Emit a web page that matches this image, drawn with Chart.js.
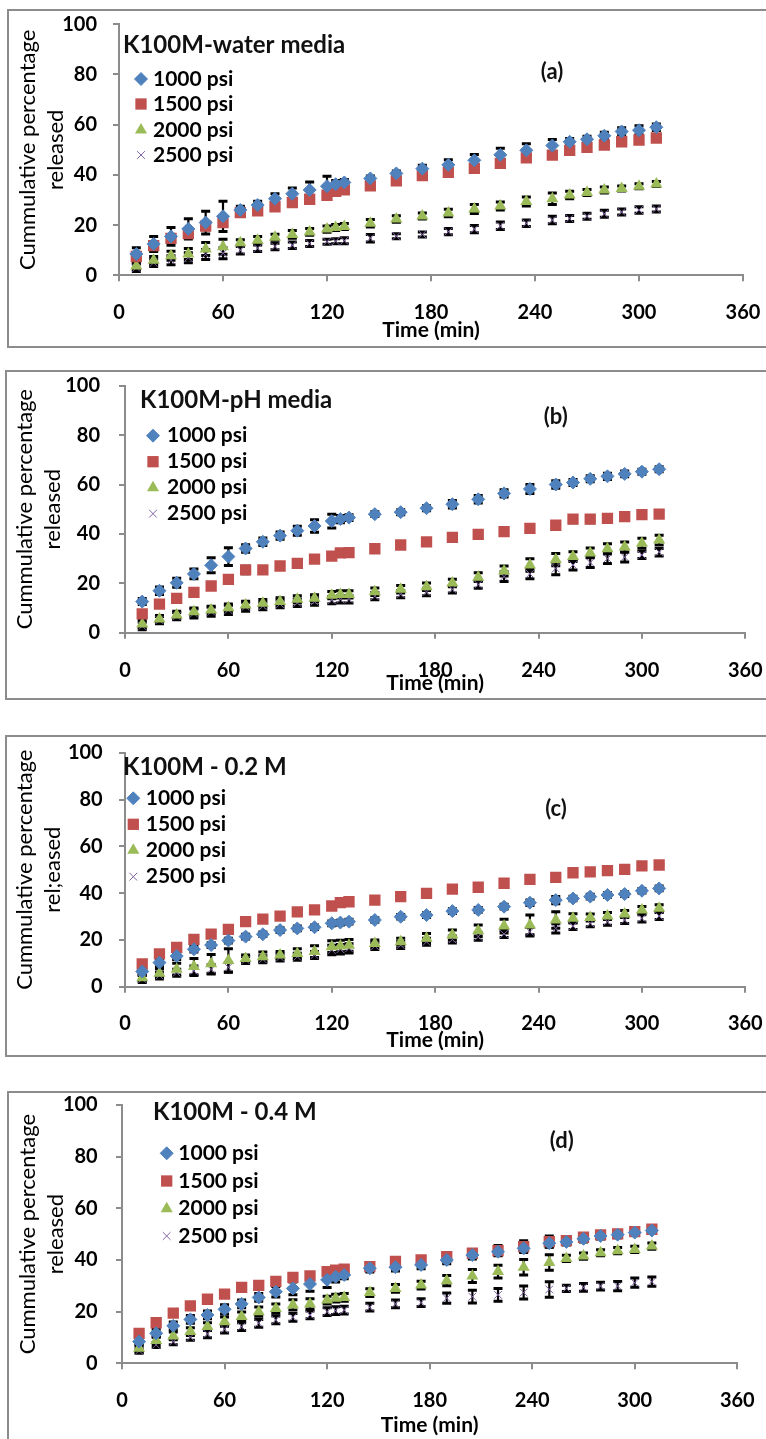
<!DOCTYPE html>
<html>
<head>
<meta charset="utf-8">
<script src="https://cdn.jsdelivr.net/npm/chart.js@4.4.0/dist/chart.umd.min.js"></script>
<style>
  body { margin: 0; background: #fff; }
  #page { position: relative; width: 766px; height: 1439px; overflow: hidden; background: #fff; }
  .frame { position: absolute; border: 2px solid #8c8c8c; box-sizing: border-box; }
  canvas { position: absolute; left: 0; }
</style>
</head>
<body>
<div id="page">
  <div class="frame" style="left:7px;top:9px;width:770px;height:339px"></div>
  <div class="frame" style="left:5px;top:370px;width:772px;height:330px"></div>
  <div class="frame" style="left:5px;top:735px;width:772px;height:322px"></div>
  <div class="frame" style="left:7px;top:1091px;width:770px;height:360px"></div>
  <canvas id="chartA" width="766" height="350" style="top:0px"></canvas>
  <canvas id="chartB" width="766" height="355" style="top:350px"></canvas>
  <canvas id="chartC" width="766" height="355" style="top:705px"></canvas>
  <canvas id="chartD" width="766" height="379" style="top:1060px"></canvas>
</div>
<script>
// sampling times (min), shared by every panel
const times = [10, 20, 30, 40, 50, 60, 70, 80, 90, 100, 110, 120, 125, 130, 145, 160, 175, 190, 205, 220, 235, 250, 260, 270, 280, 290, 300, 310];

const seriesLabels = ['1000 psi', '1500 psi', '2000 psi', '2500 psi'];

// (a) water media - mean % released and SD
const water1000 = [8.5, 12.5, 15.5, 18.5, 21, 23.5, 26, 28, 30.5, 32.5, 34, 35.5, 36.3, 37, 38.6, 40.6, 42.5, 44, 45.8, 48, 49.8, 51.7, 53.2, 54.2, 55.6, 57.3, 57.8, 59];
const water1000Err = [2.5, 3, 3.5, 4, 4.5, 6, 1.5, 1.5, 2, 2.3, 3.2, 4, 1.5, 1.2, 1, 1, 1.3, 2, 2.3, 2.6, 2.6, 2.4, 1.3, 1.2, 1.4, 1.5, 1.8, 1.3];
const water1500 = [7.5, 11.8, 14.7, 16.6, 19.6, 21, 25, 25.7, 27.3, 29, 30.3, 31.9, 33.4, 34, 35.6, 37.6, 39.7, 41, 42.6, 44.6, 46.8, 47.9, 49.8, 51, 51.9, 53.2, 53.9, 54.7];
const water1500Err = [1.5, 1.5, 1.5, 1.2, 1.5, 1.5, 1, 1, 1, 1, 1, 1, 1, 1, 1, 1, 1, 1, 1, 1, 1, 1, 1, 1, 1, 1, 1, 1];
const water2000 = [3.7, 6, 7.8, 8.5, 10.5, 11.4, 13, 14, 15.2, 16.3, 17.3, 18.4, 19, 19.4, 20.7, 22.4, 23.6, 24.8, 26.4, 27.6, 29.4, 30.5, 32, 33, 34, 34.6, 35.5, 36.4];
const water2000Err = [1.2, 1.5, 1.8, 2.2, 2.6, 3, 1.2, 1.5, 1.2, 1.5, 1.3, 1.2, 1.2, 1.2, 1.5, 1.3, 1.2, 1.5, 1.8, 1.6, 1.8, 2.3, 1.5, 1.2, 1.2, 1, 1, 1];
const water2500 = [3, 5, 6, 7, 8.3, 8.8, 10, 10.8, 11.5, 12, 12.7, 13.4, 13.6, 13.8, 14.8, 15.6, 16.3, 17.4, 18.4, 19.7, 20.7, 22, 22.6, 23.5, 24.5, 25.2, 26, 26.4];
const water2500Err = [1.5, 1.5, 1.8, 2, 2, 2.2, 1.5, 1.3, 1.3, 1.3, 1.2, 1, 1, 1.2, 1.5, 1, 1, 1.2, 1.4, 1.5, 1.3, 1.5, 1.2, 1.2, 1.4, 1.2, 1.3, 1.2];

// (b) pH media
const ph1000 = [12.6, 17, 20.2, 23.8, 27.3, 30.8, 34.1, 36.8, 39.3, 41.3, 43.2, 45.2, 46, 46.6, 48, 48.8, 50.4, 52, 54, 56.4, 58.2, 60, 60.8, 62.3, 63.3, 64.3, 65.2, 66.2];
const ph1000Err = [1.2, 1.5, 1.8, 2, 3, 3.6, 1.5, 1.5, 1.5, 1.8, 2.5, 2.8, 1.5, 1.2, 1, 1, 1, 1.5, 1.5, 1.5, 1.8, 1.5, 1.2, 1.2, 1.3, 1.2, 1, 1];
const ph1500 = [7.6, 11.6, 13.9, 16.3, 18.9, 21.6, 25.4, 25.4, 27, 28.1, 29.8, 31, 32.3, 32.4, 34, 35.5, 36.8, 38.6, 39.8, 40.9, 42.2, 43.5, 46, 46, 46.3, 47, 47.8, 48];
const ph1500Err = [1, 1, 1, 1.5, 1, 1, 1.5, 1, 1.2, 1, 1, 1, 1, 1, 1, 1, 1, 1.2, 1, 1, 1, 1, 1.5, 1.5, 1, 1, 1, 1.3];
const ph2000 = [3.5, 5.5, 7.2, 8.5, 9.2, 10.1, 11.2, 11.9, 12.6, 13.5, 13.9, 15.2, 15.5, 15.5, 16.6, 17.6, 18.6, 20.1, 22.5, 25, 27.4, 29.6, 30.8, 32.3, 34, 34.7, 36.2, 37.5];
const ph2000Err = [1.5, 1.5, 1.5, 1.5, 1.5, 1.5, 1.5, 1.5, 1.5, 1.5, 1.5, 1.5, 1.5, 1.5, 1.5, 1.5, 1.5, 1.5, 1.8, 2, 2.5, 2.5, 2, 2, 2, 2, 2, 2];
const ph2500 = [2.7, 5.1, 6.7, 7.8, 8.5, 9.2, 10.5, 10.8, 11.6, 12.1, 12.6, 13.2, 13.5, 13.5, 14.8, 15.6, 16.5, 17.6, 19.5, 22.7, 23.8, 26, 27.4, 28.4, 30, 30.6, 31.5, 32.6];
const ph2500Err = [1.5, 1.5, 1.5, 1.8, 1.8, 1.8, 1.8, 1.5, 1.5, 1.5, 1.5, 1.5, 1.5, 1.5, 1.5, 1.5, 1.5, 1.5, 1.5, 2, 2, 2.5, 2, 2, 2, 2, 1.5, 1.5];

// (c) 0.2 M
const m02_1000 = [6.5, 10.3, 13.1, 16, 17.8, 19.7, 21.4, 22.4, 24.2, 24.9, 25.4, 27.1, 27.4, 27.8, 28.5, 29.9, 30.6, 32.3, 32.8, 34.2, 35.9, 37, 37.7, 38.5, 39.2, 39.6, 41, 42];
const m02_1000Err = [1.5, 1.5, 1.5, 1.2, 1, 1, 1, 1, 1, 1, 1, 1, 1, 1, 1, 1, 1, 1, 1, 1, 1.2, 1.5, 1, 1, 1, 1, 1, 1];
const m02_1500 = [9.7, 14, 16.8, 20.2, 22.5, 24.5, 27.8, 28.9, 30.2, 32, 32.8, 34.5, 35.9, 36.3, 37, 38.5, 39.9, 41.7, 42.5, 44.2, 45.9, 46.7, 48.7, 49.1, 49.6, 50.1, 51.6, 52];
const m02_1500Err = [1.2, 1, 1, 1, 1, 1, 1, 1.2, 1, 1, 1.2, 1, 1, 1.2, 1, 1, 1, 1, 1.2, 1, 1, 1, 1, 1, 1, 1, 1, 1.2];
const m02_2000 = [3.8, 5.8, 7.5, 8.6, 9.8, 11.2, 12.1, 12.8, 13.5, 14.2, 15, 17.1, 17.4, 17.7, 18.5, 19.2, 20.7, 22.1, 23.9, 25.9, 26.4, 28.5, 29.2, 29.6, 30.2, 31.1, 32.8, 33.5];
const m02_2000Err = [1.5, 2, 2.5, 3.5, 4, 5, 1.5, 2, 1.5, 2, 2.5, 2.5, 2.5, 2.5, 1.5, 1.5, 2, 2.1, 2.5, 2.9, 4.2, 3.5, 2, 1.5, 1.5, 1.5, 1.5, 1.5];
const m02_2500 = [3.3, 4.8, 6, 6.8, 7.4, 8.3, 11.4, 11.7, 12.5, 12.8, 13.5, 15.7, 16, 16.4, 17.4, 17.8, 19.2, 20.2, 21.4, 22.5, 23.5, 24.9, 25.9, 27.1, 27.8, 28.5, 29.2, 30.2];
const m02_2500Err = [1.5, 1.5, 1.5, 2, 2, 2, 1.5, 1.5, 1.5, 1.5, 1.5, 2, 2, 2, 1.5, 1.5, 1.5, 1.5, 1.5, 1.5, 1.8, 2, 1.5, 1.5, 1.5, 1.5, 1.5, 1.5];

// (d) 0.4 M
const m04_1000 = [8.4, 11.6, 14.5, 17, 18.7, 20.9, 23, 25.5, 27.7, 29, 30.7, 32.3, 33.5, 34.2, 36.8, 37.2, 38.1, 40, 41.9, 43.2, 44.5, 46.5, 47, 48.2, 49.3, 49.8, 50.6, 51.4];
const m04_1000Err = [1.5, 1.5, 1.5, 1.5, 1.5, 1.8, 1.5, 1.5, 2, 2.5, 2.8, 3, 2, 1.5, 1.5, 1.5, 1.5, 1.5, 1.5, 1.5, 1.5, 1.5, 1.2, 1.2, 1.2, 1.2, 1, 1];
const m04_1500 = [11.6, 15.7, 19.4, 22.2, 24.8, 26.8, 29.4, 30.2, 31.7, 33.3, 33.8, 35.5, 36.1, 36.4, 37.4, 39.4, 40, 41.3, 42.6, 43.6, 45.2, 47.1, 47.5, 48.8, 49.7, 50.1, 51, 51.9];
const m04_1500Err = [1.2, 1, 1, 1, 1, 1, 1, 1, 1, 1, 1, 1, 1, 1.2, 1.2, 1, 1, 1.5, 1.5, 2, 2.2, 2.2, 1, 1, 1, 1.2, 1, 1];
const m04_2000 = [5.8, 8.8, 10.6, 12.3, 14.2, 16.1, 18.1, 20, 21.2, 22.6, 23, 24.5, 25.2, 25.5, 27.4, 29, 30.3, 32, 33.8, 35.5, 37.2, 39, 40.6, 41.5, 42.8, 43.6, 44.1, 45.4];
const m04_2000Err = [1.5, 1.5, 1.5, 1.5, 1.5, 1.8, 1.8, 1.8, 1.8, 2, 2, 1.5, 1.5, 1.5, 1.5, 1.5, 1.5, 2, 2.5, 2.5, 3, 3, 1.2, 1.2, 1.2, 1.2, 1.2, 1.2];
const m04_2500 = [4.9, 7.1, 8.4, 10.1, 11.4, 13.2, 14.2, 15.5, 16.8, 17.8, 18.7, 20, 20.4, 20.6, 21.7, 23, 23.5, 25.2, 25.8, 26.5, 27.4, 28.6, 29, 29.4, 29.9, 29.9, 31.2, 31.6];
const m04_2500Err = [1, 1, 1.2, 1.2, 1.5, 1.5, 1.5, 1.5, 1.5, 1.5, 1.5, 1.5, 1.5, 1.5, 1.5, 1.5, 1.5, 2, 2.5, 2.5, 2.5, 3, 1.2, 1.5, 1.5, 1.8, 1.8, 1.8];

// Excel 2007 palette + marker per pressure
const seriesColors = ['#4F81BD', '#C0504D', '#9BBB59', '#8064A2'];
const markers = [
  { style: 'rectRot', radius: 6.5, border: 1 },
  { style: 'rect', radius: 8, border: 0 },
  { style: 'triangle', radius: 7, border: 0 },
  { style: 'crossRot', radius: 5.5, border: 1 }
];

const FONT = 'Lato, "Open Sans", sans-serif';
const axisGray = '#8c8c8c';

// black SD bars with caps, under the markers
const errorBars = {
  id: 'errorBars',
  beforeDatasetsDraw(chart) {
    const ctx = chart.ctx;
    const ys = chart.scales.y;
    ctx.save();
    ctx.strokeStyle = '#000';
    chart.data.datasets.forEach((ds, di) => {
      chart.getDatasetMeta(di).data.forEach((pt, i) => {
        const d = ds.data[i];
        const top = ys.getPixelForValue(d.y + d.err);
        const bot = ys.getPixelForValue(d.y - d.err);
        ctx.lineWidth = 2.2;
        ctx.beginPath();
        ctx.moveTo(pt.x, top);
        ctx.lineTo(pt.x, bot);
        ctx.stroke();
        ctx.lineWidth = 3;
        ctx.beginPath();
        ctx.moveTo(pt.x - 4.5, top); ctx.lineTo(pt.x + 4.5, top);
        ctx.moveTo(pt.x - 4.5, bot); ctx.lineTo(pt.x + 4.5, bot);
        ctx.stroke();
      });
    });
    ctx.restore();
  }
};

// in-plot legend box, its heading and the panel letter
const panelText = {
  id: 'panelText',
  afterDraw(chart, args, opts) {
    const ctx = chart.ctx;
    ctx.save();
    ctx.textBaseline = 'middle';
    ctx.textAlign = 'left';
    ctx.fillStyle = '#111';
    ctx.font = 'bold 24px ' + FONT;
    ctx.fillText(opts.title, opts.titleX, opts.titleY);
    chart.data.datasets.forEach((ds, i) => {
      const y = opts.itemY[i];
      ctx.fillStyle = ds.backgroundColor;
      ctx.strokeStyle = ds.borderColor;
      ctx.lineWidth = markers[i].border;
      Chart.helpers.drawPoint(ctx, {
        pointStyle: ds.pointStyle, radius: ds.pointRadius, rotation: 0, borderWidth: markers[i].border
      }, opts.markerX, y);
      ctx.fillStyle = '#000';
      ctx.font = 'bold 21px ' + FONT;
      ctx.fillText(ds.label, opts.textX, y);
    });
    ctx.textAlign = 'center';
    ctx.font = 'bold 22px ' + FONT;
    ctx.fillStyle = '#111';
    ctx.fillText(opts.tag, opts.tagX, opts.tagY);
    ctx.restore();
  }
};

function makePanel(id, box, yTitle, legend, series) {
  const canvas = document.getElementById(id);
  const W = canvas.width, H = canvas.height;
  const datasets = series.map((s, i) => ({
    label: seriesLabels[i],
    data: times.map((t, k) => ({ x: t, y: s[0][k], err: s[1][k] })),
    pointStyle: markers[i].style,
    pointRadius: markers[i].radius,
    pointHoverRadius: markers[i].radius,
    pointBorderWidth: markers[i].border,
    pointBackgroundColor: seriesColors[i],
    pointBorderColor: seriesColors[i],
    backgroundColor: seriesColors[i],
    borderColor: seriesColors[i],
    showLine: false
  }));
  const noPad = s => { s.paddingLeft = s.paddingRight = s.paddingTop = s.paddingBottom = 0; };
  const tickFont = { family: FONT, size: 20, weight: 'bold', lineHeight: 1.2 };
  const xTitleFont = { family: FONT, size: 21, weight: 'bold', lineHeight: 1.2 };
  const yTitleFont = { family: FONT, size: 22, weight: 'normal', lineHeight: 1.25 };
  return new Chart(canvas, {
    type: 'scatter',
    data: { datasets },
    options: {
      responsive: false,
      animation: false,
      events: [],
      layout: { padding: { top: box.top, right: W - box.right, left: 0, bottom: 0 } },
      scales: {
        x: {
          type: 'linear', min: 0, max: 360,
          ticks: { stepSize: 60, padding: box.xTickPad - 0.6, font: tickFont, color: '#000', maxRotation: 0 },
          grid: { drawOnChartArea: false, tickLength: 6, color: axisGray, lineWidth: 2 },
          border: { color: axisGray, width: 2 },
          title: {
            display: true, text: 'Time (min)', color: '#000', font: xTitleFont,
            padding: { top: 0, bottom: H - box.bottom - box.xTitleGap - 12.6 }
          },
          afterFit: s => { s.height = H - box.bottom; noPad(s); }
        },
        y: {
          type: 'linear', min: 0, max: 100,
          ticks: { stepSize: 20, padding: box.yTickPad, font: tickFont, color: '#000' },
          grid: { drawOnChartArea: false, tickLength: 6, color: axisGray, lineWidth: 2 },
          border: { color: axisGray, width: 2 },
          title: {
            display: true, text: yTitle, color: '#000', font: yTitleFont,
            padding: { top: box.yTitleX - 13.75, bottom: 0 }
          },
          afterFit: s => { s.width = box.left; noPad(s); }
        }
      },
      plugins: {
        legend: { display: false },
        tooltip: { enabled: false },
        panelText: legend
      }
    },
    plugins: [errorBars, panelText]
  });
}

makePanel('chartA',
  { left: 119, right: 743, top: 24.3, bottom: 275.3, yTickPad: 16, xTickPad: 20, xTitleGap: 54.7, yTitleX: 28 },
  ['Cummulative percentage', 'released'],
  { title: 'K100M-water media', titleX: 123, titleY: 45, markerX: 141, textX: 153, itemY: [79, 104, 130, 155], tag: '(a)', tagX: 552, tagY: 72 },
  [[water1000, water1000Err], [water1500, water1500Err], [water2000, water2000Err], [water2500, water2500Err]]);

makePanel('chartB',
  { left: 125, right: 745.3, top: 35.7, bottom: 282.7, yTickPad: 19, xTickPad: 20.5, xTitleGap: 50.3, yTitleX: 25 },
  ['Cummulative percentage', 'released'],
  { title: 'K100M-pH media', titleX: 140, titleY: 50.7, markerX: 153, textX: 167, itemY: [85.7, 111.7, 137.7, 163.7], tag: '(b)', tagX: 555.7, tagY: 66.7 },
  [[ph1000, ph1000Err], [ph1500, ph1500Err], [ph2000, ph2000Err], [ph2500, ph2500Err]]);

makePanel('chartC',
  { left: 125, right: 745.3, top: 47.7, bottom: 281.7, yTickPad: 16.3, xTickPad: 19.8, xTitleGap: 53.3, yTitleX: 25 },
  ['Cummulative percentage', 'rel;eased'],
  { title: 'K100M - 0.2 M', titleX: 123, titleY: 62, markerX: 133.3, textX: 145.7, itemY: [93.3, 119.3, 145.3, 171.7], tag: '(c)', tagX: 556, tagY: 104.3 },
  [[m02_1000, m02_1000Err], [m02_1500, m02_1500Err], [m02_2000, m02_2000Err], [m02_2500, m02_2500Err]]);

makePanel('chartD',
  { left: 122, right: 737.3, top: 45, bottom: 303.3, yTickPad: 18.3, xTickPad: 19.9, xTitleGap: 62.4, yTitleX: 28.3 },
  ['Cummulative percentage', 'released'],
  { title: 'K100M - 0.4 M', titleX: 153, titleY: 52.3, markerX: 166.7, textX: 178.3, itemY: [93.3, 121, 148.7, 176], tag: '(d)', tagX: 561.7, tagY: 81 },
  [[m04_1000, m04_1000Err], [m04_1500, m04_1500Err], [m04_2000, m04_2000Err], [m04_2500, m04_2500Err]]);
</script>
</body>
</html>
